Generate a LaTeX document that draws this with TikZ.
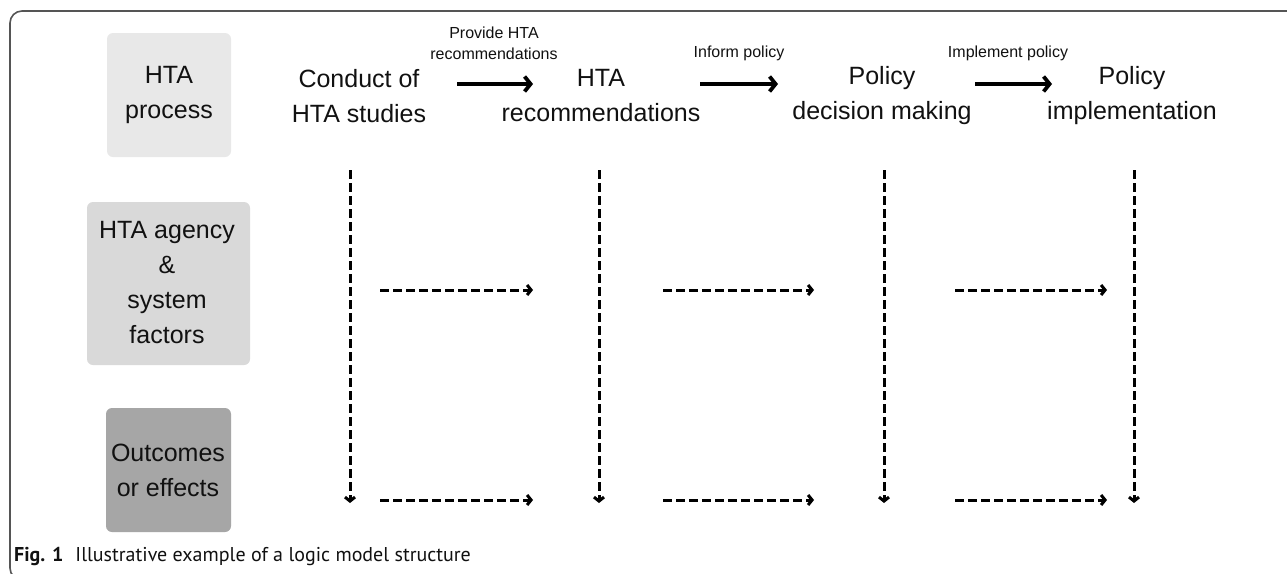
\documentclass[tikz,border=0pt]{standalone}
\usepackage{fontspec}
\setmainfont{Liberation Sans}
\newfontfamily\capfont{PT Sans}
\usetikzlibrary{arrows.meta}
\definecolor{boxA}{HTML}{E8E8E8}
\definecolor{boxB}{HTML}{D9D9D9}
\definecolor{boxC}{HTML}{A6A6A6}
\definecolor{frameC}{HTML}{555555}
\definecolor{txt}{HTML}{111111}
\tikzset{
  rowbox/.style={rounded corners=6pt, draw=none},
  bigtext/.style={font=\fontsize{25}{35}\selectfont, align=center, text=txt, inner sep=0pt},
  smalltext/.style={font=\fontsize{16}{21}\selectfont, align=center, text=txt, inner sep=0pt},
  mainarrow/.style={line width=3.8pt, -{Straight Barb[length=6pt,width=15pt]}},
  flowarrow/.style={line width=3pt, dash pattern=on 8.5pt off 4.5pt, -{Straight Barb[length=4pt,width=10pt]}}
}
\begin{document}
\begin{tikzpicture}[x=1pt,y=-1pt]
\useasboundingbox (0,0) rectangle (1287,573);
\fill[white] (0,0) rectangle (1287,573);
% frame
\draw[frameC, line width=1.6pt, rounded corners=12pt] (1290,11) -- (10,11) -- (10,580) -- (40,580);
% row boxes
\fill[boxA, rowbox] (107,33) rectangle (231,157);
\fill[boxB, rowbox] (87,202) rectangle (250,365);
\fill[boxC, rowbox] (106,408) rectangle (231,532);
\node[bigtext] (proc) at (169,95) {HTA\\process};
\node[bigtext] (agency) at (167,283) {HTA agency\\\&\\system\\factors};
\node[bigtext] (outc) at (168,470) {Outcomes\\or effects};
% top row
\node[bigtext] (s1) at (359,96) {Conduct of\\HTA studies};
\node[bigtext] (s2) at (601,96) {HTA\\recommendations};
\node[bigtext] (s3) at (882,96) {Policy\\decision making};
\node[bigtext] (s4) at (1132,96) {Policy\\implementation};
\node[smalltext] (l1) at (494,43) {Provide HTA\\recommendations};
\node[smalltext] (l2) at (739,53) {Inform policy};
\node[smalltext] (l3) at (1008,53) {Implement policy};
\coordinate (a1s) at (457,84); \coordinate (a1e) at (533,84);
\coordinate (a2s) at (700,84); \coordinate (a2e) at (778,84);
\coordinate (a3s) at (975,84); \coordinate (a3e) at (1052,84);
\draw[mainarrow] (a1s) -- (a1e);
\draw[mainarrow] (a2s) -- (a2e);
\draw[mainarrow] (a3s) -- (a3e);
% verticals
\foreach \x/\n in {350/v1,599/v2,884/v3,1134/v4}{
  \coordinate (\n t) at (\x,170);
  \coordinate (\n b) at (\x,503);
  \draw[flowarrow] (\n t) -- (\n b);
}
% horizontals
\foreach \y/\r in {290/m,500/b}{
  \coordinate (\r1s) at (380,\y); \coordinate (\r1e) at (533,\y);
  \coordinate (\r2s) at (663,\y); \coordinate (\r2e) at (814,\y);
  \coordinate (\r3s) at (955,\y); \coordinate (\r3e) at (1107,\y);
  \draw[flowarrow] (\r1s) -- (\r1e);
  \draw[flowarrow] (\r2s) -- (\r2e);
  \draw[flowarrow] (\r3s) -- (\r3e);
}
% caption
\node[anchor=base west, inner sep=0pt, font=\capfont\fontsize{20}{24}\selectfont, text=txt] (cap) at (14,561) {\textbf{Fig. 1}\hspace{0.6em}Illustrative example of a logic model structure};
\end{tikzpicture}
\end{document}
